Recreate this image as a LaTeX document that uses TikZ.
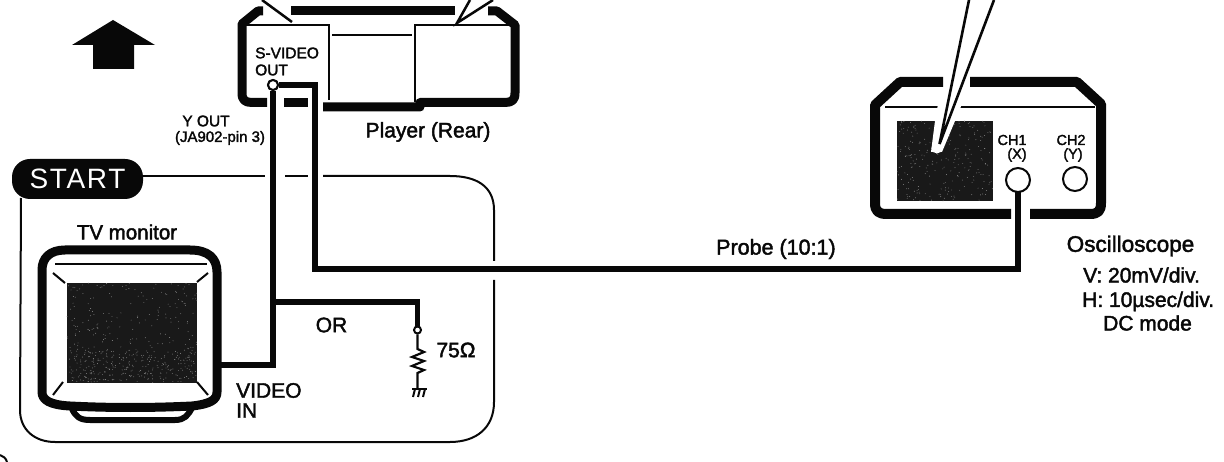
\documentclass[tikz,border=0pt]{standalone}
\usepackage{fontspec}
\setmainfont{Liberation Sans}[BoldFont={Liberation Sans},BoldFeatures={FakeBold=2}]
\usetikzlibrary{calc}
\definecolor{ink}{gray}{0.03}
\pgfmathsetseed{4242}
\tikzset{
  x=1pt,y=-1pt,
  heavy/.style={draw=ink,line width=9pt,line join=round,line cap=butt},
  wire/.style={draw=ink,line width=5.5pt,line join=miter},
  thin line/.style={draw=ink,line width=2pt},
  screen/.style={fill=black!90,draw=none},
  lab/.style={font=\bfseries\fontsize{#1}{#1}\selectfont,text=ink,inner sep=0pt,align=left},
  lab/.default=20,
  port/.style={circle,draw=ink,line width=2pt,fill=white,inner sep=0pt,minimum size=#1},
}
\newcommand{\grain}[5]{% x0 y0 w h count
  \foreach \i in {1,...,#5}{
    \pgfmathsetmacro{\gx}{#1+#3*rnd}
    \pgfmathsetmacro{\gy}{#2+#4*rnd}
    \fill[white!55!black] (\gx,\gy) circle (0.45pt);
  }}
\begin{document}
\begin{tikzpicture}
\useasboundingbox (0,0) rectangle (1224,462);
% START frame
\draw[thin line] (140,176) -- (265,176);
\draw[thin line] (285,176) -- (308,176);
\draw[thin line] (323,176) -- (450,176) .. controls (476,176) and (494,186) .. (494,210) -- (494,261);
\draw[thin line] (494,280) -- (494,402) .. controls (494,428) and (476,442) .. (450,442) -- (55,442) .. controls (35,442) and (20,430) .. (20,410) -- (21,198);
\node[fill=ink,rounded corners=18pt,minimum width=131pt,minimum height=40pt,inner sep=0pt,text=white,font=\fontsize{28}{28}\selectfont\addfontfeature{LetterSpace=6}] (start) at (77.5,179) {START};
% corner remnant
\draw[line width=2pt,draw=ink] (0,455) .. controls (3,456) and (6,458) .. (7,462);
% arrow
\fill[ink] (113,20) -- (155,45) -- (134,45) -- (134,69) -- (93,69) -- (93,45) -- (72,45) -- cycle;
% player
\draw[heavy] (291,11) -- (455,11);
\draw[heavy] (263,11) -- (258,11) -- (242,24) -- (242,93) .. controls (242,100) and (245,102.5) .. (252,102.5) -- (267,102.5);
\draw[heavy] (284,103) -- (308,103);
\draw[heavy] (323,107) -- (420,107) -- (420,102.5) -- (505,102.5) .. controls (512,102.5) and (515,100) .. (515,93) -- (515,25) -- (497,11) -- (488,11);
\draw[thin line] (246,25) -- (329,25) -- (329,100);
\draw[line width=2.5pt,draw=ink] (332,35) -- (412,35);
\draw[thin line] (415,102) -- (415,25) -- (512,25);
% player probes
\draw[line width=2.5pt,draw=ink] (262,0) -- (292,22);
\draw[line width=2.5pt,draw=ink,line join=miter] (470,0) -- (457,23) -- (493,0);
\node[lab=15.5,anchor=west] at (255,53) {S-VIDEO};
\node[lab=15.5,anchor=west] at (255,70) {OUT};
\node[lab=15.5] at (206,121) {Y OUT};
\node[lab=15] at (220,138) {(JA902-pin 3)};
\node[lab=21] at (428,132) {Player (Rear)};
% connectors
\node[port=10pt] (sv) at (273,85) {};
\coordinate (tvout) at (219,365);
\coordinate (rtop) at (417.5,302);
\draw[wire] (sv) -- (273,365) -- (tvout);
\draw[wire] (273,302) -- (rtop) -- (417.5,330);
\draw[wire] (sv.east) -- (315,85) -- (315,269) -- (1018,269) -- (1018,192);
\node[port=10pt] at (273,85) {};
% TV
\draw[draw=ink,line width=9pt,line join=round] (65,250) -- (190,250) .. controls (208,250) and (217,258) .. (217,272) -- (217,392) .. controls (217,400) and (210,404) .. (192,406) .. controls (150,408) and (110,408) .. (70,406) .. controls (50,405) and (42,400) .. (42,392) -- (42,270) .. controls (42,258) and (50,250) .. (65,250) -- cycle;
\draw[draw=ink,line width=6pt,line join=round] (72,409) .. controls (76,417) and (80,420) .. (90,420) -- (175,420) .. controls (185,420) and (188,415) .. (192,408);
\draw[thin line] (55,264) -- (207,264);
\fill[screen] (67,283) rectangle (197,383);
\grain{67}{283}{130}{100}{260}
\grain{68}{350}{128}{32}{220}
\draw[thin line] (53,273) -- (65,283);
\draw[thin line] (208,273) -- (197,282);
\draw[thin line] (53,395) -- (63,382);
\draw[thin line] (208,395) -- (197,382);
\node[lab=20.5] at (127,232) {TV monitor};
\node[lab=21,anchor=west] at (236,390.5) {VIDEO};
\node[lab=21,anchor=west] at (236,410.5) {IN};
\node[lab=21] at (331.5,325) {OR};
\node[lab=21] at (456,350) {75Ω};
% resistor
\node[port=7pt] (rn) at (417.5,330) {};
\coordinate (gnd) at (417.5,388);
\draw[line width=2.2pt,draw=ink,line join=miter] (rn) -- (417.5,349) -- (424,352) -- (412,357) -- (424,361) -- (412,366) -- (424,370) -- (417.5,373) -- (gnd);
\draw[line width=2.5pt,draw=ink] (412,389) -- (427,389);
\draw[line width=2pt,draw=ink] (415,389) -- (413,397) (420,389) -- (418,397) (425,389) -- (423,397);
% probe label
\node[lab=21.5,anchor=west] at (716,249) {Probe (10:1)};
% oscilloscope
\draw[draw=ink,line width=2pt] (885,107.5) -- (1095,107.5);
\draw[heavy,line width=10pt] (943,82) -- (900,82) -- (875,105) -- (875,203) .. controls (875,211) and (878,214) .. (887,214) -- (1011,214);
\draw[heavy,line width=10pt] (970,82) -- (1077,82) -- (1101,104) -- (1101,203) .. controls (1101,211) and (1098,214) .. (1090,214) -- (1030,214);
\fill[screen] (897,121) rectangle (993,201);
\grain{897}{121}{96}{80}{240}
\fill[white] (938,104) -- (962,104) -- (955,121) -- (942,152) -- (931,152) -- (935,121) -- cycle;
\fill[white] (937,148) circle (5.5pt);
\coordinate (tip) at (939.5,144);
\draw[line width=2.6pt,draw=ink,line join=miter] (969,0) -- (tip) -- (994,0);
\node[port=24pt] (ch1) at (1018,180) {};
\node[port=24pt] (ch2) at (1075,179) {};
\node[lab=14.5] at (1012,140) {CH1};
\node[lab=14.5] at (1017,155) {(X)};
\node[lab=14.5] at (1071,140) {CH2};
\node[lab=14.5] at (1073,155) {(Y)};
\node[lab=22.5] at (1130.5,246) {Oscilloscope};
\node[lab=21,anchor=west] at (1083,275) {V: 20mV/div.};
\node[lab=21,anchor=west] at (1082,301.5) {H: 10µsec/div.};
\node[lab=21,anchor=west] at (1103,323) {DC mode};
\end{tikzpicture}
\end{document}
